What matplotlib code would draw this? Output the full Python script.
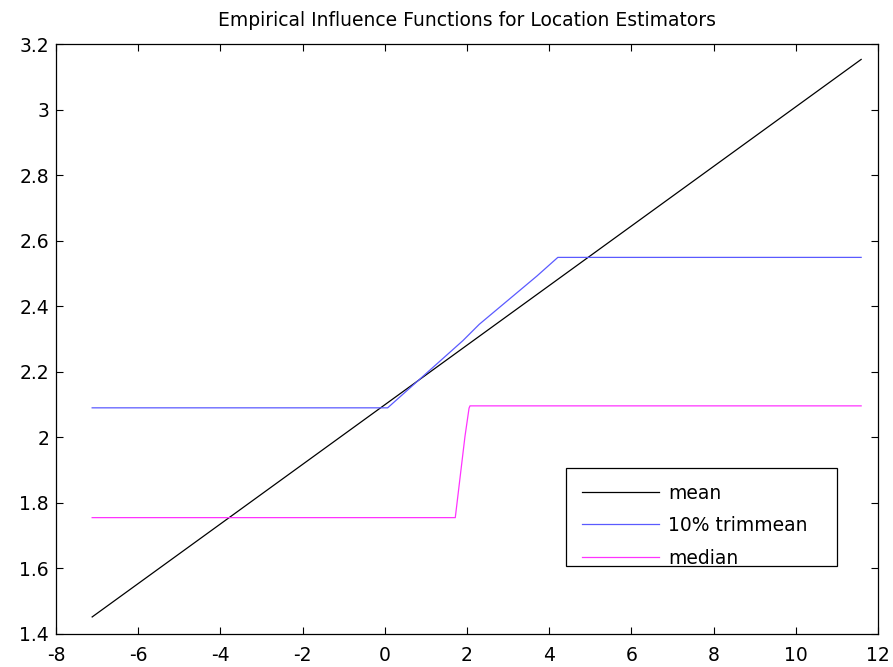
import matplotlib
matplotlib.use("Agg")
import matplotlib.pyplot as plt
from matplotlib.patches import Rectangle

plt.rcParams['font.family'] = ['DejaVu Sans']

# Influence curves: estimator value as a function of the added observation x
mean_x = [-7.12, 11.59]
mean_y = [1.452, 3.153]

trim_x = [-7.12, 0.07, 1.9, 2.3, 3.7, 4.21, 11.59]
trim_y = [2.090, 2.090, 2.295, 2.345, 2.492, 2.549, 2.549]

median_x = [-7.12, 1.715, 1.95, 2.05, 2.073, 11.59]
median_y = [1.755, 1.755, 2.002, 2.089, 2.096, 2.096]

series_labels = ['mean', '10% trimmean', 'median']

x_ticks = [-8, -6, -4, -2, 0, 2, 4, 6, 8, 10, 12]
y_ticks = [1.4, 1.6, 1.8, 2.0, 2.2, 2.4, 2.6, 2.8, 3.0, 3.2]
y_tick_labels = ['1.4', '1.6', '1.8', '2', '2.2', '2.4', '2.6', '2.8', '3', '3.2']

FS = 13.5

fig = plt.figure(figsize=(8.93, 6.67), dpi=100)
ax = fig.add_axes([0.0627, 0.0495, 0.9205, 0.8845])

ax.plot(mean_x, mean_y, color='black', lw=0.9, label=series_labels[0])
ax.plot(trim_x, trim_y, color='#5a5aff', lw=0.9, label=series_labels[1])
ax.plot(median_x, median_y, color='#ff33ff', lw=0.9, label=series_labels[2])

ax.set_xlim(-8, 12)
ax.set_ylim(1.4, 3.2)
ax.set_xticks(x_ticks)
ax.set_xticklabels([str(t) for t in x_ticks])
ax.set_yticks(y_ticks)
ax.set_yticklabels(y_tick_labels)

ax.tick_params(direction='in', length=5, width=0.8, labelsize=FS,
               top=True, right=True, colors='black')
ax.tick_params(axis='x', pad=9)
ax.tick_params(axis='y', pad=5)
for s in ax.spines.values():
    s.set_linewidth(0.9)
    s.set_color('black')

ax.set_title('Empirical Influence Functions for Location Estimators',
             fontsize=FS, pad=13)

# Legend box drawn as a plain rectangle, entries placed inside it
ax.add_patch(Rectangle((0.6204, 0.1153), 0.3297, 0.1661, transform=ax.transAxes,
                       facecolor='white', edgecolor='black', lw=0.9, zorder=4))
leg = ax.legend(loc='upper left', bbox_to_anchor=(0.6395, 0.255),
                borderaxespad=0, borderpad=0, frameon=False,
                fontsize=FS, handlelength=4.1, handletextpad=0.5,
                labelspacing=0.72)
leg.set_zorder(5)

fig.savefig('out.png', dpi=100)
